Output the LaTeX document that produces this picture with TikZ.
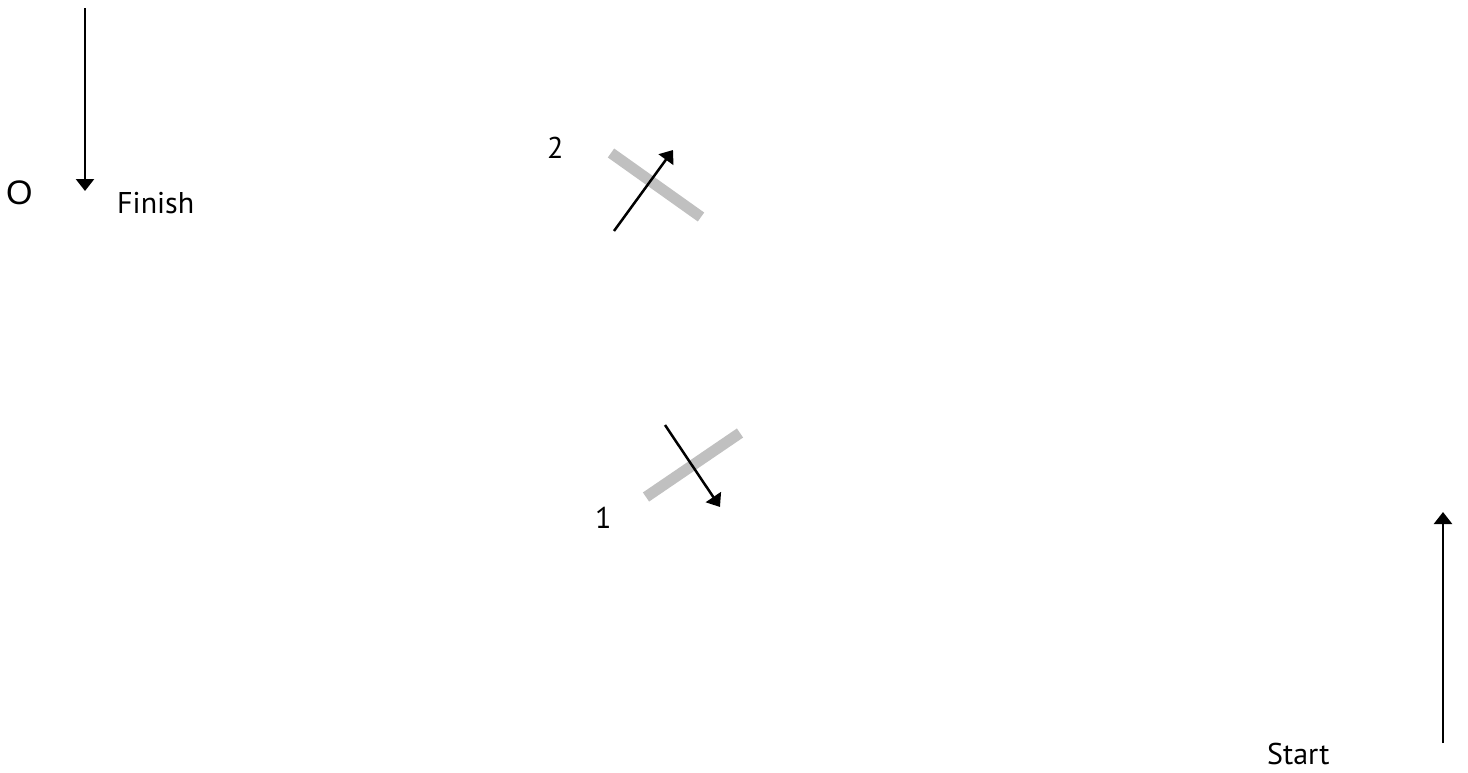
\documentclass[tikz,border=0pt]{standalone}
\usepackage{fontspec}
\setmainfont{PT Sans}
\newfontfamily\ofont{Liberation Sans}
\usetikzlibrary{arrows.meta}
\begin{document}
\begin{tikzpicture}[x=1pt,y=-1pt,
  arr/.style={line width=2.5pt,-{Triangle[width=18pt,length=12pt]}},
  bar/.style={line width=11pt,draw=barg},
  lbl/.style={font=\fontsize{30}{34}\selectfont,anchor=base west,inner sep=0pt}]
\definecolor{barg}{HTML}{C0C0C0}
\useasboundingbox (0,0) rectangle (1468,772);
% Finish
\coordinate (f0) at (85,8);
\coordinate (f1) at (85,191);
\draw[arr] (f0) -- (f1);
\node[lbl] (o) at (6,204) {\ofont\fontsize{34}{36}\selectfont O};
\node[lbl] (fin) at (117,213) {Finish};
% marker 2
\coordinate (b2a) at (611,153);
\coordinate (b2b) at (701,217);
\draw[bar] (b2a) -- (b2b);
\coordinate (a2a) at (614,231);
\coordinate (a2b) at (673,150);
\draw[arr] (a2a) -- (a2b);
\node[lbl] (two) at (547,158) {2};
% marker 1
\coordinate (b1a) at (646,497);
\coordinate (b1b) at (740,433);
\draw[bar] (b1a) -- (b1b);
\coordinate (a1a) at (665,425);
\coordinate (a1b) at (720,507);
\draw[arr] (a1a) -- (a1b);
\node[lbl] (one) at (595,528) {1};
% Start
\coordinate (s0) at (1443,743);
\coordinate (s1) at (1443,512);
\draw[arr] (s0) -- (s1);
\node[lbl] (start) at (1267,764) {Start};
\end{tikzpicture}
\end{document}
